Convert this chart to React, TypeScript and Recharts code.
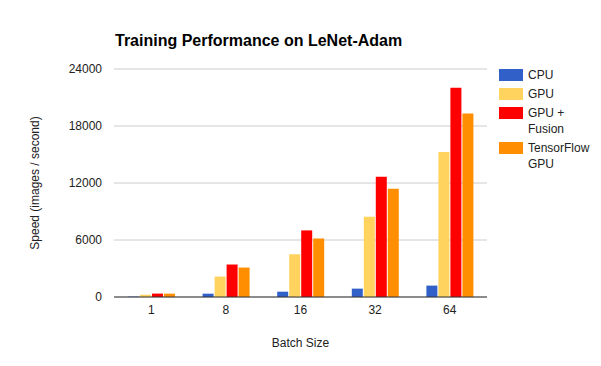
import React from "react";
import { BarChart, Bar, XAxis, YAxis, CartesianGrid, Label } from "recharts";

const batchSizes = ["1", "8", "16", "32", "64"];
const cpu = [40, 350, 560, 880, 1200];
const gpu = [240, 2150, 4500, 8450, 15260];
const gpuFusion = [360, 3420, 7010, 12660, 22020];
const tensorflowGpu = [350, 3100, 6160, 11400, 19310];
const yTicks = [0, 6000, 12000, 18000, 24000];

const seriesNames = ["CPU", "GPU", "GPU + Fusion", "TensorFlow GPU"];
const seriesKeys = ["cpu", "gpu", "fusion", "tf"];
const seriesColors = ["#3160c9", "#ffd35e", "#ff0000", "#ff8e00"];
const legendLines = [["CPU"], ["GPU"], ["GPU +", "Fusion"], ["TensorFlow", "GPU"]];

const data = batchSizes.map((b, i) => ({
  batch: b,
  cpu: cpu[i],
  gpu: gpu[i],
  fusion: gpuFusion[i],
  tf: tensorflowGpu[i],
}));

const FONT = "Arial, 'Liberation Sans', sans-serif";

export default function App() {
  return (
    <div style={{ position: "relative", width: 601, height: 366, background: "#fff", fontFamily: FONT }}>
      <style>{`body{margin:0}`}</style>
      <div
        style={{
          position: "absolute",
          left: 115,
          top: 32,
          fontSize: 16,
          fontWeight: "bold",
          color: "#000",
          whiteSpace: "nowrap",
        }}
      >
        Training Performance on LeNet-Adam
      </div>
      <BarChart
        width={601}
        height={366}
        data={data}
        margin={{ top: 69, right: 114, bottom: 0, left: 0 }}
        barSize={11}
        barGap={1}
      >
        <CartesianGrid vertical={false} stroke="#cccccc" />
        <XAxis
          dataKey="batch"
          height={69}
          tickLine={false}
          tickSize={0}
          tickMargin={8}
          axisLine={{ stroke: "#333333" }}
          tick={{ fill: "#222222", fontSize: 12, fontFamily: FONT }}
        >
          <Label
            content={({ viewBox }: any) => (
              <text
                x={viewBox.x + viewBox.width / 2}
                y={347}
                textAnchor="middle"
                fill="#222222"
                fontSize={12}
                fontFamily={FONT}
              >
                Batch Size
              </text>
            )}
          />
        </XAxis>
        <YAxis
          width={114}
          domain={[0, 24000]}
          ticks={yTicks}
          tickLine={false}
          tickSize={0}
          tickMargin={12}
          axisLine={false}
          tick={{ fill: "#222222", fontSize: 12, fontFamily: FONT }}
        >
          <Label
            content={({ viewBox }: any) => (
              <text
                x={39}
                y={viewBox.y + viewBox.height / 2}
                transform={`rotate(-90 39 ${viewBox.y + viewBox.height / 2})`}
                textAnchor="middle"
                fill="#222222"
                fontSize={12}
                fontFamily={FONT}
              >
                Speed (images / second)
              </text>
            )}
          />
        </YAxis>
        {seriesKeys.map((k, i) => (
          <Bar key={k} dataKey={k} name={seriesNames[i]} fill={seriesColors[i]} isAnimationActive={false} />
        ))}
      </BarChart>
      <div style={{ position: "absolute", left: 499, top: 67, fontSize: 12, color: "#222" }}>
        {legendLines.map((lines, i) => (
          <div key={i} style={{ display: "flex", alignItems: "flex-start", marginBottom: 3 }}>
            <div style={{ width: 24, height: 12, background: seriesColors[i], marginTop: 2, marginRight: 5, flex: "none" }} />
            <div style={{ lineHeight: "16px" }}>
              {lines.map((l, j) => (
                <div key={j}>{l}</div>
              ))}
            </div>
          </div>
        ))}
      </div>
    </div>
  );
}
